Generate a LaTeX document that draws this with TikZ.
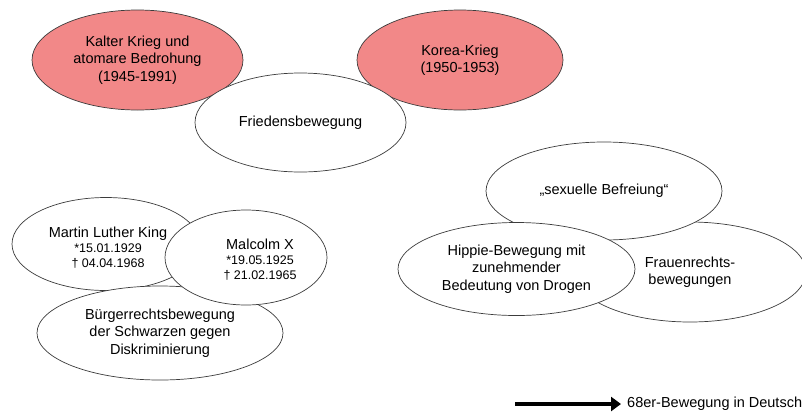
\documentclass[tikz,border=0pt]{standalone}
\usepackage{fontspec}
\setmainfont{Liberation Sans}
\usetikzlibrary{shapes.geometric,arrows.meta}
\definecolor{pinkfill}{RGB}{242,136,136}
\definecolor{edge}{RGB}{60,60,60}
\tikzset{
  bubble/.style={ellipse, draw=edge, line width=0.7pt, fill=white, inner sep=0pt, align=center,
    font=\fontsize{14.5}{17.5}\selectfont},
  redbubble/.style={bubble, fill=pinkfill},
  txt/.style={align=center, inner sep=0pt, font=\fontsize{12.5}{15}\selectfont},
  bigline/.style={line width=3.5pt, -{Triangle[length=10pt,width=14pt]}}
}
\begin{document}
\begin{tikzpicture}[x=1pt,y=-1pt]
\useasboundingbox (0,0) rectangle (802,416);
\clip (0,0) rectangle (802,416);
% top group
\node[redbubble, minimum width=211pt, minimum height=100pt] (kk) at (137.5,60) {Kalter Krieg und\\atomare Bedrohung\\(1945-1991)};
\node[redbubble, minimum width=206pt, minimum height=100pt] (ko) at (460,60) {Korea-Krieg\\(1950-1953)};
\node[bubble, minimum width=211pt, minimum height=99pt] (fb) at (300.5,122.5) {Friedensbewegung};
% left group
\node[bubble, minimum width=188pt, minimum height=93pt] (mlk) at (106,244) {};
\node[txt] (mlkt) at (108,248) {{\fontsize{14.5}{17.5}\selectfont Martin Luther King}\\*15.01.1929\\† 04.04.1968};
\node[bubble, minimum width=246pt, minimum height=94pt] (bg) at (160,333) {Bürgerrechtsbewegung\\der Schwarzen gegen\\Diskriminierung};
\node[bubble, minimum width=162pt, minimum height=95pt] (mx) at (246,257.5) {};
\node[txt] (mxt) at (260,260) {{\fontsize{14.5}{17.5}\selectfont Malcolm X}\\*19.05.1925\\† 21.02.1965};
% right group
\node[bubble, minimum width=232pt, minimum height=100pt] (fr) at (690,272) {Frauenrechts-\\bewegungen};
\node[bubble, minimum width=236pt, minimum height=98pt] (sb) at (604,191) {„sexuelle Befreiung“};
\node[bubble, minimum width=237pt, minimum height=93pt] (hb) at (516.5,269) {Hippie-Bewegung mit\\zunehmender\\Bedeutung von Drogen};
% arrow
\coordinate (as) at (515,404);
\node[anchor=west, inner sep=0pt, font=\fontsize{14.5}{17.5}\selectfont] (t68) at (627,404) {68er-Bewegung in Deutschland};
\draw[bigline] (as) -- ([xshift=-6pt]t68.west);
\end{tikzpicture}
\end{document}
